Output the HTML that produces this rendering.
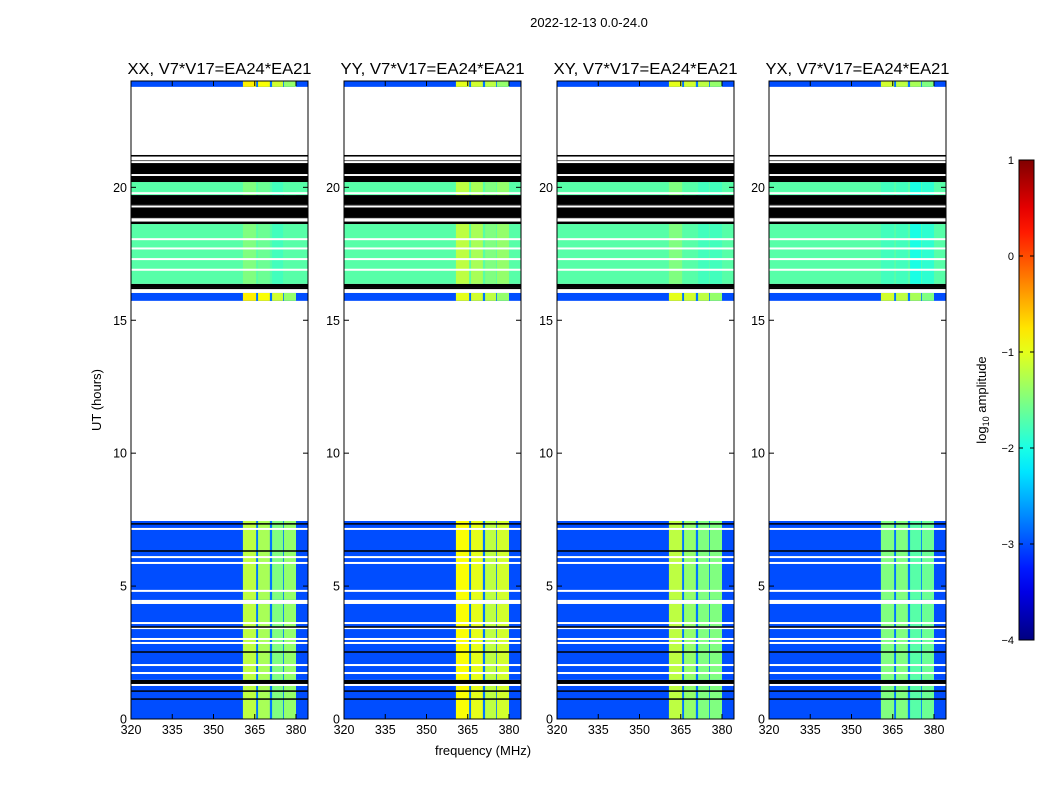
<!DOCTYPE html>
<html><head><meta charset="utf-8"><style>
body{margin:0;background:#fff;}
svg text{font-family:"Liberation Sans",sans-serif;}
</style></head><body>
<svg id="fig" width="1050" height="800" xmlns="http://www.w3.org/2000/svg">
<rect width="1050" height="800" fill="#fff"/>
<text x="589" y="27" font-size="13" text-anchor="middle">2022-12-13 0.0-24.0</text>
<text x="101" y="400" font-size="13" text-anchor="middle" transform="rotate(-90 101 400)">UT (hours)</text>
<text x="483" y="755" font-size="13" text-anchor="middle">frequency (MHz)</text>
<text x="986" y="400" font-size="13" text-anchor="middle" transform="rotate(-90 986 400)">log<tspan font-size="9" dy="3">10</tspan><tspan dy="-3"> amplitude</tspan></text>
<g id="panels"></g>
<g id="cbar"></g>
</svg>
<script>
// ---- data ----
const panelTitles = ["XX, V7*V17=EA24*EA21","YY, V7*V17=EA24*EA21","XY, V7*V17=EA24*EA21","YX, V7*V17=EA24*EA21"];
const panelLeft = [131, 344, 557, 769];
const xTicks = [320, 335, 350, 365, 380];
const yTicks = [0, 5, 10, 15, 20];
const cbTicks = [1, 0, -1, -2, -3, -4];
// time segments: [start h, end h, kind]
const segStart = [0, 1.28, 1.47, 1.73, 2.03, 2.86, 3.01, 3.42, 3.61, 4.33, 4.48, 4.82, 5.87, 6.09, 7.15, 7.45, 15.73, 16.03, 16.22, 16.37, 18.62, 18.85, 19.34, 19.71, 19.86, 20.2, 20.43, 20.5, 20.92, 21.22, 23.78];
const segEnd   = [1.28, 1.47, 1.73, 2.03, 2.86, 3.01, 3.42, 3.61, 4.33, 4.48, 4.82, 5.87, 6.09, 7.15, 7.45, 15.73, 16.03, 16.22, 16.37, 18.62, 18.85, 19.34, 19.71, 19.86, 20.2, 20.43, 20.5, 20.92, 21.22, 23.78, 24];
const segKind  = ['low','black','low','low','low','low','low','low','low','blank','low','low','low','low','low','blank','low','blank','black','mid','black','black','black','mid','mid','black','blank','black','black','blank','low'];
const whiteLines = [7.15, 6.09, 5.87, 4.82, 3.61, 3.42, 3.01, 2.86, 2.03, 1.73, 1.28, 16.9, 17.3, 17.7, 18.05, 18.75, 18.8, 19.28, 19.78, 20.95, 21.05, 21.12];
const blackLines = [7.34, 6.32, 3.46, 2.52, 1.05, 0.75, 16.2];
const lowLevel = -3.0;
const midLevel = -1.7;
// high-band strips (MHz)
const stripStart = [360.7, 366.2, 371.3, 375.6];
const stripEnd   = [365.5, 370.5, 375.3, 380.0];
const stripLevel = [[-1.2,-1.3,-1.5,-1.4],[-0.9,-1.0,-1.2,-1.1],[-1.2,-1.4,-1.5,-1.5],[-1.5,-1.5,-1.7,-1.6]];
const topStripLevel = [[-0.8,-0.9,-1.1,-1.4],[-1.0,-1.1,-1.2,-1.4],[-1.0,-1.1,-1.2,-1.4],[-1.1,-1.2,-1.3,-1.5]];

// ---- scales ----
const PW = 177, Y0 = 719, Y1 = 81;
const xs = (f, L) => L + (f - 320) * 2.75;
const ys = h => Y0 - (h / 24) * (Y0 - Y1);
function jet(v){
  let t = (v + 4) / 5; t = Math.max(0, Math.min(1, t));
  const c = x => Math.round(255 * Math.max(0, Math.min(1, 1.5 - Math.abs(4 * t - x))));
  return `rgb(${c(3)},${c(2)},${c(1)})`;
}
const NS = "http://www.w3.org/2000/svg";
function mk(tag, attrs, parent){ const e = document.createElementNS(NS, tag); for (const k in attrs) e.setAttribute(k, attrs[k]); parent.appendChild(e); return e; }

const panels = document.getElementById('panels');
panelTitles.forEach((title, p) => {
  const L = panelLeft[p];
  const g = mk('g', {}, panels);
  
  
  const defs = mk('defs', {}, g);
  const cp = mk('clipPath', {id: 'cp' + p}, defs);
  mk('rect', {x: L, y: Y1, width: PW, height: Y0 - Y1}, cp);
  const hm = mk('g', {'clip-path': `url(#cp${p})`}, g);
  
  
  for (let i = 0; i < segStart.length; i++) {
    const yA = ys(segEnd[i]), yB = ys(segStart[i]), k = segKind[i];
    let fill = '#fff';
    if (k === 'black') fill = '#000';
    else if (k === 'low') fill = jet(lowLevel);
    else if (k === 'mid') fill = jet(midLevel);
    const r = mk('rect', {x: L, y: yA, width: PW + 1, height: yB - yA, fill}, hm);
    
    
    if (k === 'low' || k === 'mid') {
      const lv = k === 'mid' ? stripLevel[p].map(v => v - 0.3) : (segStart[i] > 20 || (segStart[i] > 15 && segStart[i] < 16.1) ? topStripLevel[p] : stripLevel[p]);
      const bandX0 = xs(stripStart[0], L), bandX1 = xs(stripEnd[3], L);
      if (k === 'low') mk('rect', {x: bandX0, y: yA, width: bandX1 - bandX0, height: yB - yA, fill: jet(-2.8)}, hm);
      for (let s = 0; s < stripStart.length; s++) {
        const x0 = xs(stripStart[s], L), x1 = xs(stripEnd[s], L);
        const c = mk('rect', {x: x0, y: yA, width: x1 - x0, height: yB - yA, fill: jet(lv[s])}, hm);
        
        
      }
    }
  }
  whiteLines.forEach(h => { const l = mk('rect', {x: L, y: ys(h) - 1, width: PW, height: 2, fill: '#fff'}, hm);
      });
  blackLines.forEach(h => { const l = mk('rect', {x: L, y: ys(h) - 0.75, width: PW, height: 1.5, fill: '#000'}, hm);
      });
  const fr = mk('rect', {x: L, y: Y1, width: PW, height: Y0 - Y1, fill: 'none', stroke: '#000', 'stroke-width': 1}, g);
   
  const t = mk('text', {x: L + PW / 2, y: 74, 'font-size': 16, 'text-anchor': 'middle', textLength: 184, lengthAdjust: 'spacingAndGlyphs'}, g);
  t.textContent = title;
   
  xTicks.forEach(f => {
    const x = xs(f, L);
    mk('line', {x1: x, x2: x, y1: Y0, y2: Y0 - 5, stroke: '#000'}, g);
    mk('line', {x1: x, x2: x, y1: Y1, y2: Y1 + 5, stroke: '#000'}, g);
    const tl = mk('text', {x, y: Y0 + 15, 'font-size': 12.5, 'text-anchor': 'middle'}, g);
    tl.textContent = f;
     
  });
  yTicks.forEach(h => {
    const y = ys(h);
    mk('line', {x1: L, x2: L + 5, y1: y, y2: y, stroke: '#000'}, g);
    mk('line', {x1: L + PW, x2: L + PW - 5, y1: y, y2: y, stroke: '#000'}, g);
    const tl = mk('text', {x: L - 4, y: y + 4.5, 'font-size': 12.5, 'text-anchor': 'end'}, g);
    tl.textContent = h;
     
  });
});

// colorbar
const cb = document.getElementById('cbar');
const CBX = 1019, CBW = 15, CBT = 160, CBB = 640;
const cbs = v => CBB - (v + 4) / 5 * (CBB - CBT);
const gd = mk('defs', {}, cb);
const lg = mk('linearGradient', {id: 'jetg', x1: 0, y1: 1, x2: 0, y2: 0}, gd);
for (let i = 0; i <= 20; i++) mk('stop', {offset: i / 20, 'stop-color': jet(-4 + i / 4)}, lg);
const cbr = mk('rect', {x: CBX, y: CBT, width: CBW, height: CBB - CBT, fill: 'url(#jetg)', stroke: '#000'}, cb);
 
cbTicks.forEach(v => {
  const y = cbs(v);
  mk('line', {x1: CBX, x2: CBX + 4, y1: y, y2: y, stroke: '#000'}, cb);
  mk('line', {x1: CBX + CBW, x2: CBX + CBW - 4, y1: y, y2: y, stroke: '#000'}, cb);
  const tl = mk('text', {x: CBX - 5, y: y + 4, 'font-size': 11, 'text-anchor': 'end'}, cb);
  tl.textContent = v < 0 ? '\u2212' + (-v) : v;
   
});
</script>
</body></html>
